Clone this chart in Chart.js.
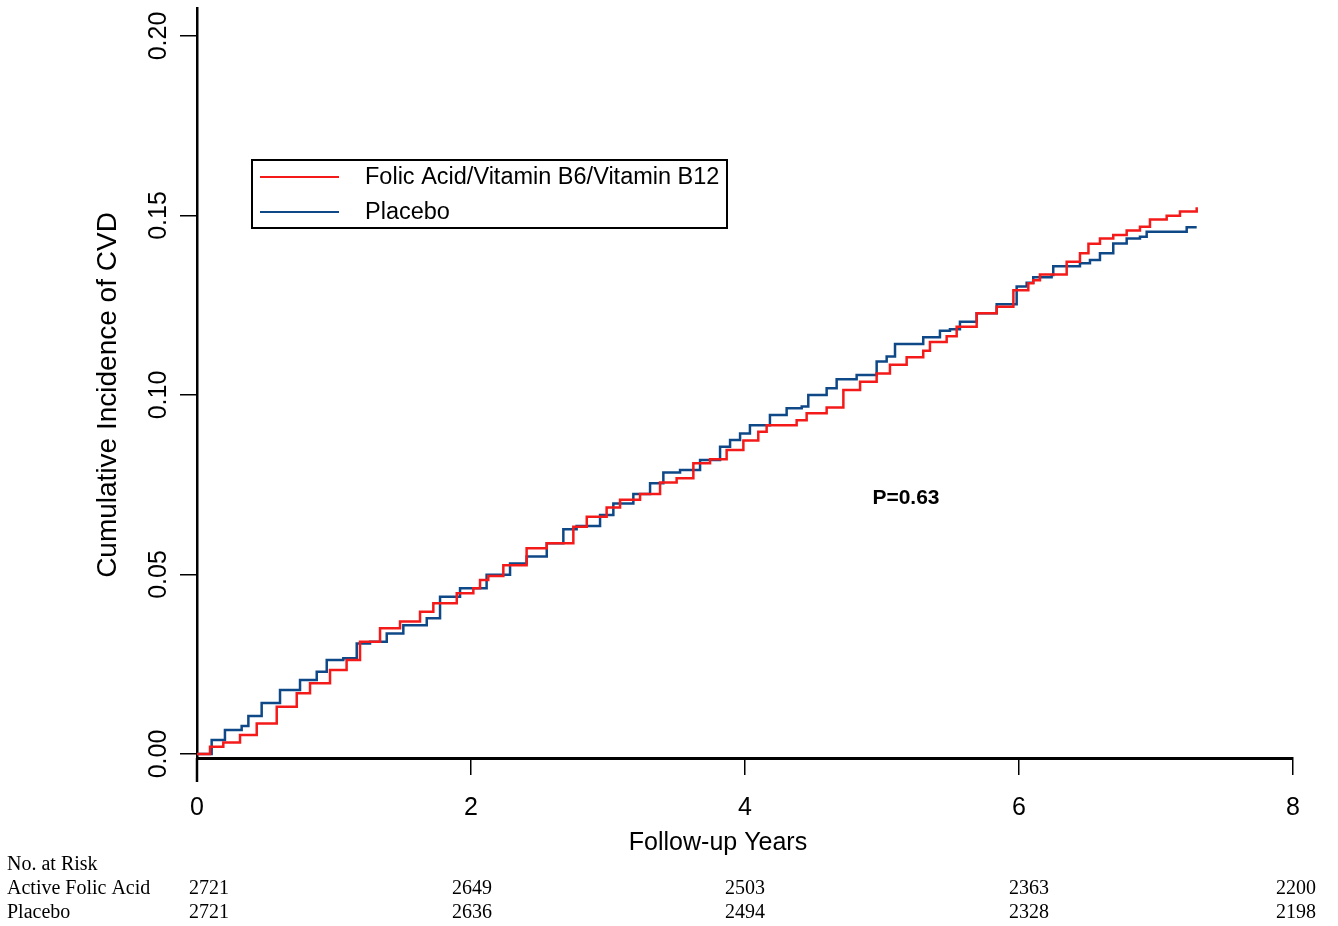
<!DOCTYPE html>
<html>
<head>
<meta charset="utf-8">
<script src="https://cdn.jsdelivr.net/npm/chart.js@4.4.0/dist/chart.umd.min.js"></script>
<style>
  html, body { margin: 0; padding: 0; background: #fff; }
</style>
</head>
<body>
<canvas id="kmChart" width="1338" height="926"></canvas>
<script>
// Kaplan-Meier style cumulative incidence
const folicYears = [0, 0.095, 0.192, 0.314, 0.436, 0.582, 0.728, 0.825, 0.971, 1.092, 1.19, 1.336, 1.482, 1.628, 1.725, 1.896, 2.017, 2.066, 2.126, 2.236, 2.406, 2.553, 2.747, 2.845, 2.99, 3.088, 3.234, 3.38, 3.501, 3.623, 3.745, 3.866, 3.988, 4.097, 4.158, 4.377, 4.45, 4.596, 4.718, 4.84, 4.961, 5.058, 5.18, 5.301, 5.35, 5.472, 5.545, 5.691, 5.837, 5.959, 6.068, 6.104, 6.153, 6.348, 6.445, 6.507, 6.591, 6.688, 6.786, 6.883, 6.956, 7.078, 7.175, 7.297];
const folicRisk = [0, 0.002, 0.0032, 0.0053, 0.0085, 0.0132, 0.0169, 0.0197, 0.0234, 0.0262, 0.0313, 0.035, 0.0369, 0.0396, 0.042, 0.0448, 0.0462, 0.0485, 0.0496, 0.0526, 0.0573, 0.0587, 0.0633, 0.0661, 0.0687, 0.0708, 0.0724, 0.0756, 0.0768, 0.081, 0.0821, 0.0847, 0.0873, 0.0898, 0.0916, 0.093, 0.0949, 0.0965, 0.1014, 0.1037, 0.106, 0.1084, 0.1105, 0.1123, 0.1148, 0.1164, 0.119, 0.1228, 0.1246, 0.1292, 0.1311, 0.132, 0.1336, 0.1371, 0.1395, 0.1421, 0.1436, 0.1446, 0.1458, 0.1469, 0.1489, 0.1499, 0.1511, 0.1523];

const placeboYears = [0, 0.107, 0.204, 0.326, 0.375, 0.472, 0.606, 0.752, 0.874, 0.947, 1.068, 1.166, 1.263, 1.385, 1.506, 1.677, 1.774, 1.92, 2.114, 2.285, 2.406, 2.553, 2.674, 2.771, 2.942, 3.039, 3.185, 3.307, 3.404, 3.526, 3.672, 3.818, 3.891, 3.964, 4.036, 4.182, 4.304, 4.414, 4.462, 4.596, 4.669, 4.815, 4.961, 5.034, 5.095, 5.301, 5.423, 5.496, 5.569, 5.691, 5.837, 5.983, 6.056, 6.104, 6.238, 6.25, 6.445, 6.518, 6.591, 6.688, 6.786, 6.883, 6.932, 7.224, 7.297];
const placeboRisk = [0, 0.0039, 0.0067, 0.0078, 0.0106, 0.0142, 0.0178, 0.0206, 0.0229, 0.0262, 0.0267, 0.0308, 0.0313, 0.0336, 0.0359, 0.0378, 0.0438, 0.0462, 0.0499, 0.0531, 0.055, 0.0587, 0.0626, 0.0635, 0.0666, 0.0698, 0.0724, 0.0754, 0.0784, 0.0791, 0.0819, 0.0856, 0.0875, 0.0893, 0.0916, 0.0944, 0.0963, 0.0968, 0.1, 0.1019, 0.1044, 0.1056, 0.1093, 0.1107, 0.1142, 0.1161, 0.1179, 0.1183, 0.1204, 0.1228, 0.1253, 0.1302, 0.1313, 0.1328, 0.1334, 0.1359, 0.1367, 0.1376, 0.1395, 0.1422, 0.1436, 0.1441, 0.1455, 0.1467, 0.1467];

const seriesNames = ['Folic Acid/Vitamin B6/Vitamin B12', 'Placebo'];
const seriesColors = ['#f51a1a', '#0f4887'];

const xTickValues = [0, 2, 4, 6, 8];
const yTickValues = [0, 0.05, 0.10, 0.15, 0.20];

// No. at risk table
const riskYears = [0, 2, 4, 6, 8];
const riskFolic = [2721, 2649, 2503, 2363, 2200];
const riskPlacebo = [2721, 2636, 2494, 2328, 2198];
const riskRowLabels = ['Active Folic Acid', 'Placebo'];

const pValueText = 'P=0.63';
const pValuePos = { x: 5.175, y: 0.0713 };

const SANS = '"Liberation Sans", Arial, Helvetica, sans-serif';
const SERIF = '"Liberation Serif", "Times New Roman", serif';

// small nudges of the risk numbers, as in the original figure
const riskNudge = [12, 1, 0, 10, 3];

function toPoints(xs, ys) {
    return xs.map((x, i) => ({ x: x, y: ys[i] }));
}

// extra drawing: axis titles, y axis tail, legend box, p-value, risk table
const extrasPlugin = {
    id: 'extras',
    afterDraw(chart) {
        const ctx = chart.ctx;
        const xs = chart.scales.x;
        const ys = chart.scales.y;
        const area = chart.chartArea;
        ctx.save();

        // y axis line runs a bit below the x axis
        ctx.strokeStyle = '#000';
        ctx.lineWidth = 2.5;
        ctx.beginPath();
        ctx.moveTo(xs.getPixelForValue(0), area.bottom);
        ctx.lineTo(xs.getPixelForValue(0), area.bottom + 24);
        ctx.stroke();

        // axis titles
        ctx.fillStyle = '#000';
        ctx.textAlign = 'center';
        ctx.textBaseline = 'middle';
        ctx.font = '25px ' + SANS;
        ctx.fillText('Follow-up Years', 718, 843);
        ctx.save();
        ctx.translate(108, 395);
        ctx.rotate(-Math.PI / 2);
        ctx.font = '28px ' + SANS;
        ctx.fillText('Cumulative Incidence of CVD', 0, 0);
        ctx.restore();

        // legend
        ctx.lineWidth = 2;
        ctx.strokeStyle = '#000';
        ctx.strokeRect(252, 160, 475, 68);
        const rows = [177, 212];
        chart.data.datasets.forEach((ds, i) => {
            ctx.strokeStyle = ds.borderColor;
            ctx.lineWidth = 2;
            ctx.beginPath();
            ctx.moveTo(260, rows[i]);
            ctx.lineTo(339, rows[i]);
            ctx.stroke();
            ctx.fillStyle = '#000';
            ctx.font = '23.5px ' + SANS;
            ctx.textAlign = 'left';
            ctx.textBaseline = 'middle';
            ctx.fillText(ds.label, 365, rows[i] + 1);
        });

        // p value
        ctx.fillStyle = '#000';
        ctx.font = 'bold 21px ' + SANS;
        ctx.textAlign = 'center';
        ctx.textBaseline = 'middle';
        ctx.fillText(pValueText, xs.getPixelForValue(pValuePos.x), ys.getPixelForValue(pValuePos.y));

        // number at risk
        ctx.font = '20px ' + SERIF;
        ctx.textAlign = 'left';
        ctx.fillText('No. at Risk', 7, 865);
        ctx.fillText(riskRowLabels[0], 7, 889);
        ctx.fillText(riskRowLabels[1], 7, 913);
        ctx.textAlign = 'center';
        riskYears.forEach((yr, i) => {
            const px = xs.getPixelForValue(yr) + riskNudge[i];
            ctx.fillText(String(riskFolic[i]), px, 889);
            ctx.fillText(String(riskPlacebo[i]), px, 913);
        });
        ctx.restore();
    }
};

const ctx = document.getElementById('kmChart').getContext('2d');

const kmChart = new Chart(ctx, {
    type: 'line',
    data: {
        datasets: [{
            label: seriesNames[0],
            data: toPoints(folicYears, folicRisk),
            borderColor: seriesColors[0],
            borderWidth: 2.5,
            pointRadius: 0,
            stepped: true,
            fill: false
        }, {
            label: seriesNames[1],
            data: toPoints(placeboYears, placeboRisk),
            borderColor: seriesColors[1],
            borderWidth: 2.5,
            pointRadius: 0,
            stepped: true,
            fill: false
        }]
    },
    options: {
        responsive: false,
        animation: false,
        layout: {
            padding: { top: 8, right: 45, left: 0, bottom: 0 }
        },
        plugins: {
            legend: { display: false },
            tooltip: { enabled: false }
        },
        scales: {
            x: {
                type: 'linear',
                position: 'bottom',
                min: 0,
                max: 8,
                afterBuildTicks: (s) => { s.ticks = xTickValues.map(v => ({ value: v })); },
                afterFit: (s) => { s.height = 168; s.paddingLeft = 0; s.paddingRight = 0; },
                ticks: {
                    color: '#000',
                    font: { family: SANS, size: 25 },
                    padding: 18,
                    maxRotation: 0,
                    autoSkip: false
                },
                grid: {
                    drawOnChartArea: false,
                    drawTicks: true,
                    tickLength: 17,
                    color: '#000',
                    lineWidth: 1.5
                },
                border: { display: true, color: '#000', width: 3 }
            },
            y: {
                type: 'linear',
                position: 'left',
                min: -0.00111,
                max: 0.2078,
                afterBuildTicks: (s) => { s.ticks = yTickValues.map(v => ({ value: v })); },
                afterFit: (s) => { s.width = 197; s.paddingTop = 0; s.paddingBottom = 0; },
                ticks: {
                    color: '#000',
                    font: { family: SANS, size: 25 },
                    minRotation: 90,
                    maxRotation: 90,
                    crossAlign: 'center',
                    padding: -3,
                    callback: (v) => Number(v).toFixed(2)
                },
                grid: {
                    drawOnChartArea: false,
                    drawTicks: true,
                    tickLength: 17,
                    color: '#000',
                    lineWidth: 1.5
                },
                border: { display: true, color: '#000', width: 2.5 }
            }
        }
    },
    plugins: [extrasPlugin]
});
</script>
</body>
</html>
